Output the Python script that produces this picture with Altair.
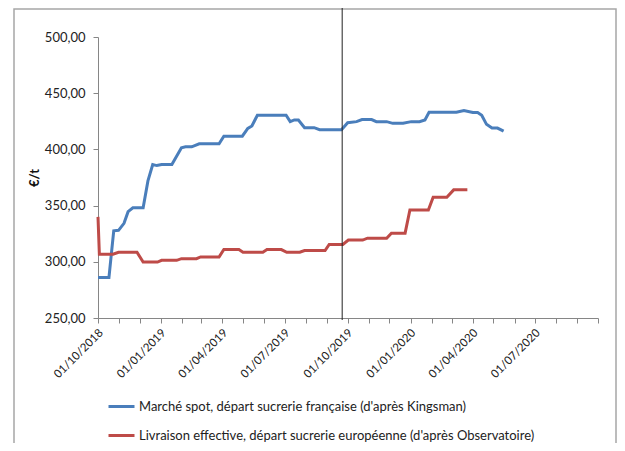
import altair as alt
import pandas as pd

# Marché spot, départ sucrerie française (d'après Kingsman)
blue_dates = ["2018-10-01", "2018-10-17", "2018-10-24", "2018-10-31", "2018-11-08", "2018-11-14",
              "2018-11-21", "2018-12-06", "2018-12-13", "2018-12-20", "2018-12-26", "2019-01-02",
              "2019-01-17", "2019-01-31", "2019-02-06", "2019-02-15", "2019-02-26", "2019-03-27",
              "2019-04-03", "2019-04-30", "2019-05-08", "2019-05-14", "2019-05-22", "2019-07-03",
              "2019-07-09", "2019-07-15", "2019-07-21", "2019-07-30", "2019-08-13", "2019-08-21",
              "2019-09-22", "2019-10-01", "2019-10-14", "2019-10-22", "2019-11-05", "2019-11-12",
              "2019-11-27", "2019-12-06", "2019-12-21", "2020-01-02", "2020-01-14", "2020-01-22",
              "2020-01-28", "2020-03-08", "2020-03-19", "2020-04-01", "2020-04-08", "2020-04-14",
              "2020-04-21", "2020-04-29", "2020-05-07", "2020-05-16"]
blue_values = [286, 286, 327.6, 328, 334.2, 344.6,
               348, 348, 372, 386.5, 385.6, 386.5,
               386.5, 401.4, 402.3, 402.3, 405, 405,
               411.8, 411.8, 418.7, 420.8, 430.4, 430.4,
               424.7, 426.2, 426.2, 419.3, 419.3, 417.5,
               417.5, 423.8, 424.7, 426.5, 426.5, 424.7,
               424.7, 423.2, 423.2, 424.7, 424.7, 426.2,
               433, 433, 434.6, 432.8, 432.8, 430.4,
               422.3, 419, 419, 416.3]

# Livraison effective, départ sucrerie européenne (d'après Observatoire)
red_dates = ["2018-10-01", "2018-10-03", "2018-10-23", "2018-10-31", "2018-11-27", "2018-12-06",
             "2018-12-27", "2019-01-02", "2019-01-24", "2019-01-31", "2019-02-22", "2019-02-28",
             "2019-03-27", "2019-04-03", "2019-04-25", "2019-05-01", "2019-05-30", "2019-06-05",
             "2019-06-26", "2019-07-04", "2019-07-23", "2019-07-30", "2019-08-29", "2019-09-04",
             "2019-09-24", "2019-10-02", "2019-10-23", "2019-10-30", "2019-11-27", "2019-12-04",
             "2019-12-24", "2019-12-31", "2020-01-27", "2020-02-03", "2020-02-23", "2020-03-04",
             "2020-03-24"]
red_values = [340, 306.7, 306.7, 308.5, 308.5, 299.8,
              299.8, 301.3, 301.3, 302.8, 302.8, 304.3,
              304.3, 310.9, 310.9, 308.5, 308.5, 310.9,
              310.9, 308.5, 308.5, 310, 310, 315.4,
              315.4, 319.3, 319.3, 321, 321, 325.5,
              325.5, 346.1, 346.1, 357.5, 357.5, 364,
              364]

series_names = ["Marché spot, départ sucrerie française (d'après Kingsman)",
                "Livraison effective, départ sucrerie européenne (d'après Observatoire)"]
series_colors = ["#4a7ebb", "#be4b48"]

x_domain = ["2018-10-01", "2020-10-01"]
y_ticks = [250, 300, 350, 400, 450, 500]
month_ticks = pd.date_range("2018-10-01", "2020-10-01", freq="MS").strftime("%Y-%m-%d").tolist()
marker_date = ["2019-09-23"]

FONT = "Lato"

df = pd.concat([
    pd.DataFrame({"date": blue_dates, "value": blue_values, "serie": series_names[0], "o": range(len(blue_dates))}),
    pd.DataFrame({"date": red_dates, "value": red_values, "serie": series_names[1], "o": range(len(red_dates))}),
])

x_scale = alt.Scale(domain=x_domain, type="utc")
x_axis = alt.Axis(values=month_ticks,
                  labelExpr="(utcmonth(datum.value) % 3 == 0 && datum.value < datetime(2020, 8, 1)) ? utcFormat(datum.value, '%d/%m/%Y') : ''",
                  labelAngle=315, labelAlign="right", labelBaseline="middle",
                  labelFont=FONT, labelFontSize=11.5, labelColor="#222222",
                  labelPadding=8, labelOffset=3, tickSize=5, tickColor="#868686", ticks=True,
                  domainColor="#868686", grid=False, labelOverlap=False, labelFlush=False,
                  labelBound=False, title=None)

lines = alt.Chart(df).mark_line(strokeWidth=3).encode(
    x=alt.X("date:T", scale=x_scale, title=None, axis=x_axis),
    y=alt.Y("value:Q", scale=alt.Scale(domain=[250, 500], nice=False, zero=False), title="€/t",
            axis=alt.Axis(values=y_ticks, labelExpr="replace(format(datum.value, '.2f'), '.', ',')",
                          labelFont=FONT, labelFontSize=13, labelColor="#222222", labelPadding=8,
                          tickSize=5, tickColor="#868686", domainColor="#868686", grid=False,
                          titleFont=FONT, titleFontSize=13, titleFontWeight="bold",
                          titleColor="#111111", titlePadding=3)),
    color=alt.Color("serie:N", scale=alt.Scale(domain=series_names, range=series_colors),
                    legend=alt.Legend(title=None, orient="none", legendX=9, legendY=355,
                                      symbolType="stroke", symbolSize=676, symbolStrokeWidth=3,
                                      labelFont=FONT, labelFontSize=13, labelColor="#222222",
                                      labelOffset=3, rowPadding=7, labelLimit=500, padding=0,
                                      direction="vertical")),
    order="o:Q",
)

marker = alt.Chart(pd.DataFrame({"date": marker_date})).mark_rule(color="#222222", strokeWidth=1).encode(
    x=alt.X("date:T", scale=x_scale, title=None, axis=x_axis),
    y=alt.value(-31),
    y2=alt.value(283),
)

frame = alt.Chart(pd.DataFrame({"a": [0]})).mark_rect(fill=None, stroke="#a6a6a6", strokeWidth=1.5).encode(
    x=alt.value(-84), x2=alt.value(518), y=alt.value(-28), y2=alt.value(600),
)

chart = alt.layer(frame, lines, marker).properties(
    width=500, height=281,
    autosize=alt.AutoSizeParams(type="none"),
    padding={"left": 90, "top": 29, "right": 19, "bottom": 125},
).configure_view(stroke=None)

chart.save("out.html", embed_options={"renderer": "svg", "actions": False})
